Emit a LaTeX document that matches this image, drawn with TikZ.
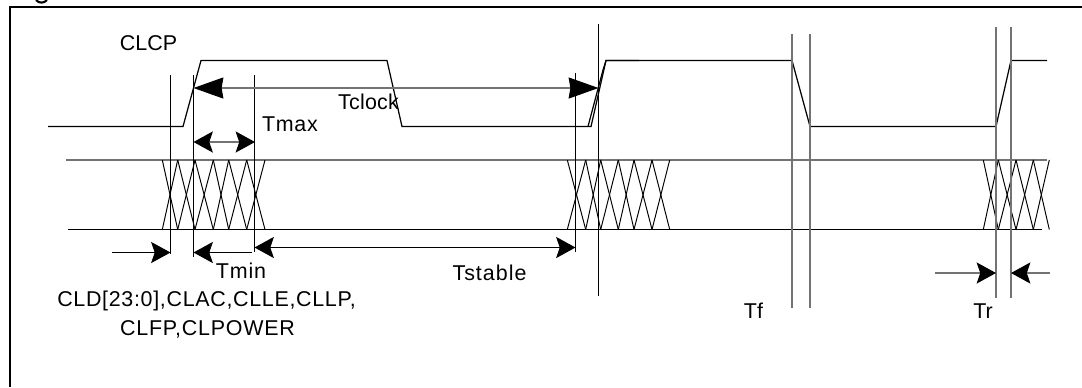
\documentclass[tikz,border=0pt]{standalone}
\usepackage{fontspec}
\setmainfont{Liberation Sans}
\usetikzlibrary{arrows.meta}

\begin{document}
\begin{tikzpicture}[x = 0.02cm, y = -0.02cm, % one unit is a pixel of the drawing
                line width = 0.7pt, % line style
                bigdim/.style = {{Stealth[length=17pt, width=12pt, inset=1pt, color=black, fill=black]}-{Stealth[length=17pt, width=12pt, inset=1pt, color=black, fill=black]}},
                smalldim/.style = {{Stealth[length=11pt, width=12pt, inset=2pt, color=black, fill=black]}-{Stealth[length=11pt, width=12pt, inset=2pt, color=black, fill=black]}},
                smallend/.style = {-{Stealth[length=11pt, width=12pt, inset=2pt, color=black, fill=black]}},
                soft/.style = {black!55},
                crossline/.style = {line width = 0.55pt},
                spaced/.style = {font = \fontsize{12.2}{16.4}\selectfont\addfontfeature{LetterSpace=#1}}
            ]

            \tikzstyle{every node}=[font = \fontsize{12.2}{16.4}\selectfont, inner sep = 0pt, anchor = base]

            \useasboundingbox (0,0) rectangle (1082,387);

            % frame
            \draw[line width = 1.1pt] (10,387) -- (10,6.7) -- (1082,6.7);
            \draw[line width = 1.2pt] (36,0) .. controls (39,3.5) and (44,3.5) .. (47,0);

            % clock
            \draw (48,126.5) -- (183,126.5) -- (201,60.5) -- (387,60.5) -- (402,126.5) -- (591,126.5) -- (606,60.5)
                -- (792,60.5) -- (810,126.5) -- (996,126.5) -- (1011,60.5) -- (1047,60.5);
            \draw (588,126.5) -- (603,70) -- (606,60.5) -- (639,60.5);

            % data bus
            \draw[soft] (66,160) -- (1047,160);
            \draw (68,229.5) -- (1042,229.5);
            \foreach \xa/\xb in {162.3/177.7, 177.7/195, 195/213.3, 213.3/228.7, 228.7/246.7, 246.7/265,
                    567.3/585.7, 585.7/600.7, 600.7/618.3, 618.3/634, 634/652, 652/669.7,
                    983.3/998.3, 998.3/1016, 1016/1033.3, 1033.3/1049.3}
                {
                    \draw[crossline] (\xa,160) -- (\xb,229.5);
                    \draw[crossline] (\xa,229.5) -- (\xb,160);
                }

            % guides
            \foreach \name/\xpos/\ytop/\ybot/\tone in {a/170.5/75/254/black, b/193.5/75/257/black, c/254.5/75/252/black,
                    d/575.5/73/252/black, e/598.5/24/296/black, f/792/34/308/black!55, g/810/34/308/black!55,
                    h/996/27/298/black!55, i/1011/27/298/black!55}
                {
                    \coordinate (\name top) at (\xpos,\ytop);
                    \coordinate (\name bot) at (\xpos,\ybot);
                    \draw[\tone] (\name top) -- (\name bot);
                }

            % dimension ends
            \coordinate (clockL) at (193.5,88); \coordinate (clockR) at (598.5,88);
            \coordinate (maxL) at (193.5,142); \coordinate (maxR) at (255,142);
            \coordinate (setupS) at (112,252.5); \coordinate (setupE) at (170.5,252.5);
            \coordinate (minS) at (252,252.5); \coordinate (minE) at (193.5,252.5);
            \coordinate (stableL) at (254.5,247.5); \coordinate (stableR) at (575.5,247.5);
            \coordinate (riseS) at (935,273); \coordinate (riseE) at (996,273);
            \coordinate (fallS) at (1050,273); \coordinate (fallE) at (1011,273);

            \path[bigdim, soft] (clockL) edge (clockR);
            \path[smalldim, soft] (maxL) edge (maxR);
            \path[smallend] (setupS) edge (setupE);
            \path[smallend] (minS) edge (minE);
            \path[smalldim] (stableL) edge (stableR);
            \path[smallend, soft] (riseS) edge (riseE);
            \path[smallend, soft] (fallS) edge (fallE);

            % labels
            \node (clcp) at (148.5,50) {CLCP};
            \node (tclock) [spaced=1] at (368.5,109) {Tclock};
            \node (tmax) [spaced=3] at (290,131.7) {Tmax};
            \node (tmin) [spaced=4] at (241,278) {Tmin};
            \node (tstable) [spaced=4.7] at (489.5,280.7) {Tstable};
            \node (tf) at (753.5,318.3) {Tf};
            \node (tr) at (983,318.3) {Tr};
            \node (cld) [spaced=3.2] at (206.5,306) {CLD[23:0],CLAC,CLLE,CLLP,};
            \node (clfp) [spaced=3.6] at (207.5,335) {CLFP,CLPOWER};
        \end{tikzpicture}
\end{document}
